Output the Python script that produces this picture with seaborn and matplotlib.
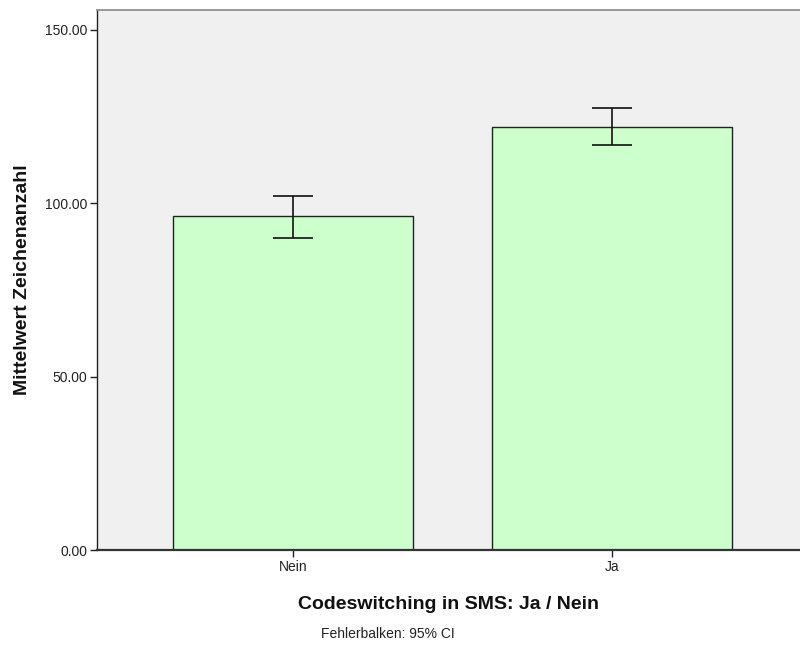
import matplotlib
matplotlib.use("Agg")
import matplotlib.pyplot as plt
import seaborn as sns
import pandas as pd
import numpy as np

categories = ["Nein", "Ja"]
means = [96.2, 122.0]
ci_low = [90.0, 116.8]
ci_high = [102.1, 127.5]
yticks = [0.0, 50.0, 100.0, 150.0]

sns.set_theme(style="white")
plt.rcParams['font.family'] = ['Liberation Sans', 'DejaVu Sans']

df = pd.DataFrame({"cat": categories, "mean": means})

fig = plt.figure(figsize=(8, 6.48), dpi=100)
ax = fig.add_axes([0.121, 0.151, 0.879, 0.834])
ax.set_facecolor("#f0f0f0")

sns.barplot(data=df, x="cat", y="mean", order=categories, color="#ccffcc",
            saturation=1, width=0.752, edgecolor="#222222", linewidth=1.0,
            errorbar=None, ax=ax)

x = np.arange(len(categories))
m = np.array(means)
yerr = np.vstack([m - np.array(ci_low), np.array(ci_high) - m])
ax.errorbar(x, m, yerr=yerr, fmt="none", ecolor="#111111", elinewidth=1.2,
            capsize=14.4, capthick=1.2)

ax.set_xlim(-0.614, 1.589)
ax.set_ylim(0, 155.8)
ax.set_yticks(yticks)
ax.set_yticklabels([f"{v:.2f}" for v in yticks], fontsize=10, color="#222222")
ax.set_xticks(x)
ax.set_xticklabels(categories, fontsize=10, color="#222222")
ax.tick_params(axis="both", direction="out", length=5, width=1, color="#222222", pad=2)
ax.tick_params(axis="both", which="both", bottom=True, left=True)

ax.spines["left"].set_color("#222222")
ax.spines["left"].set_linewidth(1.0)
ax.spines["bottom"].set_color("#333333")
ax.spines["bottom"].set_linewidth(1.6)
ax.spines["top"].set_color("#888888")
ax.spines["top"].set_linewidth(1.2)
ax.spines["right"].set_visible(False)

ax.set_xlabel("Codeswitching in SMS: Ja / Nein", fontsize=14, fontweight="bold",
              labelpad=16, color="#111111")
ax.set_ylabel("Mittelwert Zeichenanzahl", fontsize=14, fontweight="bold",
              labelpad=10, color="#111111")

fig.text(0.485, 0.022, "Fehlerbalken: 95% CI", ha="center", va="center",
         fontsize=10, color="#222222")

fig.savefig("out.png", dpi=100)
